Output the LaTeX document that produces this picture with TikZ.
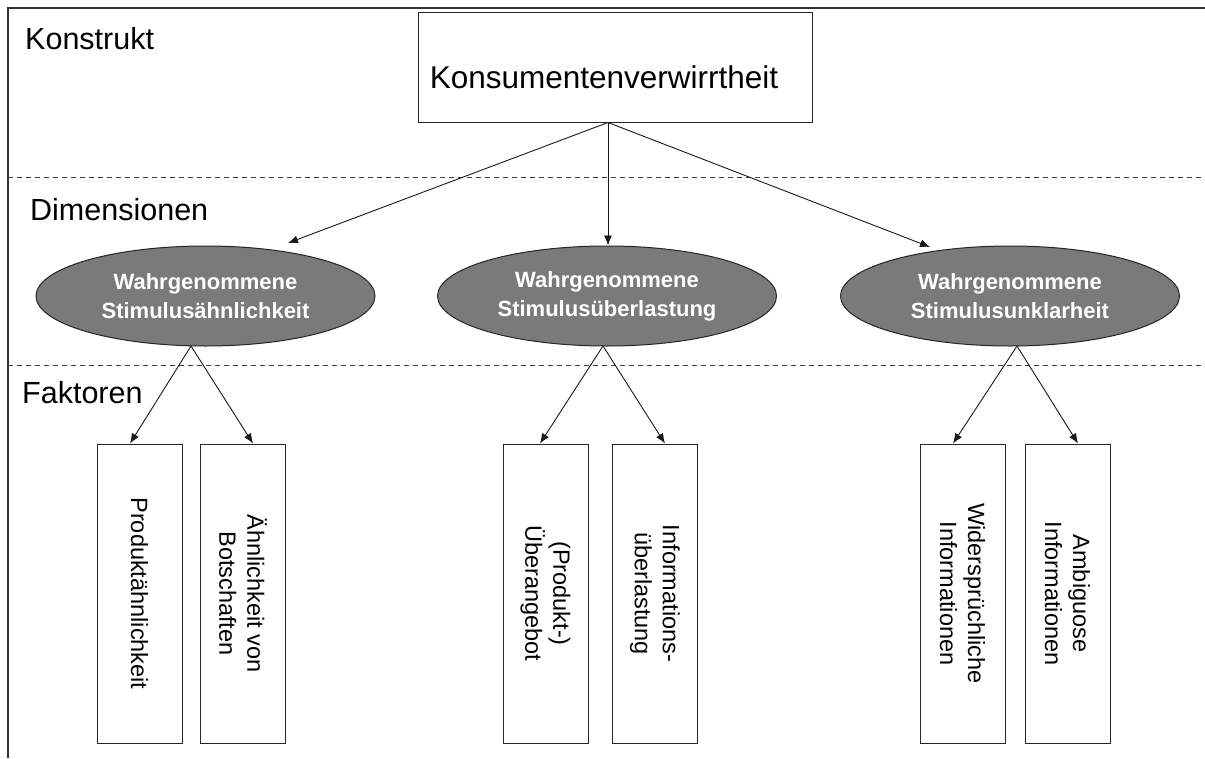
\documentclass[tikz,border=0pt]{standalone}
\usepackage{fontspec}
\setmainfont{Liberation Sans}
\usetikzlibrary{arrows.meta,calc,shapes.geometric}
\definecolor{frame}{HTML}{333333}
\definecolor{ellfill}{HTML}{7A7A7A}
\tikzset{
  sectlabel/.style={anchor=base west, inner sep=0pt, font=\fontsize{30.5}{36}\selectfont},
  divider/.style={draw=black!75, line width=1pt, dash pattern=on 5pt off 4pt},
  dimell/.style={ellipse, draw=black!85, line width=1pt, fill=ellfill, minimum width=339pt, minimum height=100pt, inner sep=0pt, text=white, align=center, font=\bfseries\fontsize{22}{29}\selectfont},
  factbox/.style={rectangle, draw=black!85, line width=1pt, minimum width=85pt, minimum height=299pt, inner sep=0pt},
  facttext/.style={rotate=-90, align=center, inner sep=0pt, font=\fontsize{23.5}{28}\selectfont},
  arr/.style={draw=black!90, line width=0.9pt, -{Latex[length=10pt,width=8pt]}}
}
\begin{document}
\begin{tikzpicture}[x=1pt,y=-1pt]
\useasboundingbox (0,0) rectangle (1205,758);
\fill[white] (0,0) rectangle (1205,758);
% frame
\draw[frame, line width=1.5pt] (8,758) -- (8,8) -- (1205,8);
% dividers
\draw[divider] (8,177) -- (1205,177);
\draw[divider] (8,365) -- (1205,365);
% section labels
\node[sectlabel] (lk) at (25,49) {Konstrukt};
\node[sectlabel] (ld) at (30,220) {Dimensionen};
\node[sectlabel] (lf) at (22,403) {Faktoren};
% construct
\node[rectangle, draw=black!85, line width=1pt, minimum width=394pt, minimum height=110pt, inner sep=0pt] (kv) at (615,67) {};
\node[anchor=base, inner sep=0pt, font=\fontsize{31.5}{36}\selectfont] (kvt) at (604,88) {Konsumentenverwirrtheit};
% dimensions
\node[dimell] (e1) at (205.5,296) {Wahrgenommene\\Stimulusähnlichkeit};
\node[dimell] (e2) at (607,296) {Wahrgenommene\\Stimulusüberlastung};
\node[dimell] (e3) at (1010,296) {Wahrgenommene\\Stimulusunklarheit};
% factors
\node[factbox] (fa) at (139.5,593.5) {};
\node[factbox] (fb) at (243,593.5) {};
\node[factbox] (fc) at (545.5,593.5) {};
\node[factbox] (fd) at (655,593.5) {};
\node[factbox] (fe) at (962.5,593.5) {};
\node[factbox] (ff) at (1067.5,593.5) {};
\node[facttext] (ta) at (fa.center) {Produktähnlichkeit};
\node[facttext] (tb) at (fb.center) {Ähnlichkeit von\\Botschaften};
\node[facttext] (tc) at (fc.center) {(Produkt-)\\Überangebot};
\node[facttext] (td) at (fd.center) {Informations-\\überlastung};
\node[facttext] (te) at (fe.center) {Widersprüchliche\\Informationen};
\node[facttext] (tf) at (ff.center) {Ambiguose\\Informationen};
% connectors
\coordinate (k0) at ($(kv.south)+(-7,0)$);
\coordinate (t1) at (288,243);
\draw[arr] (k0) -- (t1);
\draw[arr] (k0) -- (e2.north -| k0);
\coordinate (t3) at (930,247);
\draw[arr] (k0) -- (t3);
\coordinate (a1) at (191,346);
\coordinate (a2) at (603,346);
\coordinate (a3) at (1017,346);
\draw[arr] (a1) -- ($(fa.north)+(-9.5,0)$);
\draw[arr] (a1) -- ($(fb.north)+(10,0)$);
\draw[arr] (a2) -- ($(fc.north)+(-5.5,0)$);
\draw[arr] (a2) -- ($(fd.north)+(10,0)$);
\draw[arr] (a3) -- ($(fe.north)+(-9.5,0)$);
\draw[arr] (a3) -- ($(ff.north)+(10.5,0)$);
\end{tikzpicture}
\end{document}
